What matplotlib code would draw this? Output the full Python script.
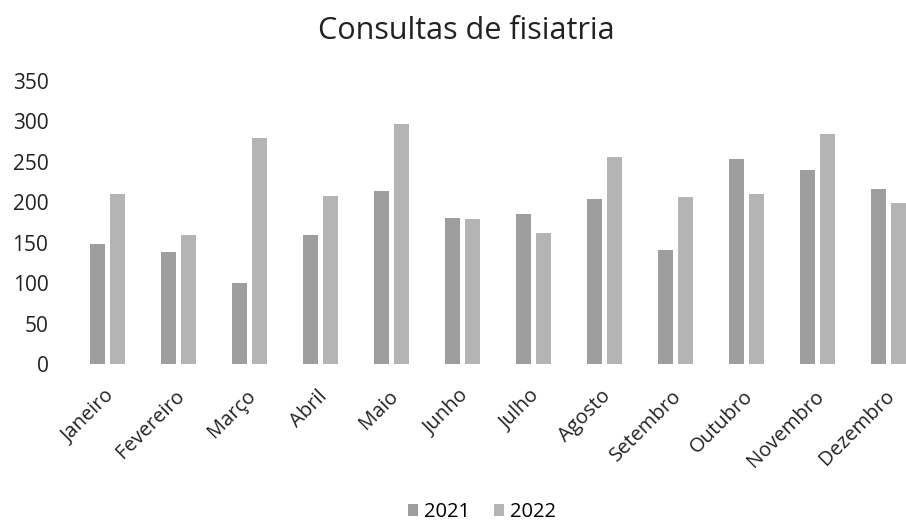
import numpy as np
import matplotlib.pyplot as plt

plt.rcParams['font.family'] = ['Open Sans', 'DejaVu Sans']

# Data
months = ['Janeiro', 'Fevereiro', 'Março', 'Abril', 'Maio', 'Junho',
          'Julho', 'Agosto', 'Setembro', 'Outubro', 'Novembro', 'Dezembro']
consultas_2021 = [148, 139, 100, 159, 214, 181, 186, 204, 141, 253, 240, 216]
consultas_2022 = [210, 159, 279, 208, 297, 179, 162, 256, 206, 210, 285, 199]
y_ticks = [0, 50, 100, 150, 200, 250, 300, 350]

fig = plt.figure(figsize=(9.06, 5.21), dpi=100)
# plot area runs past the right edge, like the cropped original
ax = fig.add_axes([72 / 906, 1 - 364 / 521, 852 / 906, 283 / 521])

x = np.arange(len(months))
w = 0.21
ax.bar(x - 0.14, consultas_2021, w, color='#9e9e9e', label='2021')
ax.bar(x + 0.14, consultas_2022, w, color='#b4b4b4', label='2022')

ax.set_xlim(-0.5, len(months) - 0.5)
ax.set_ylim(0, 350)
ax.set_yticks(y_ticks)
ax.set_yticklabels([str(t) for t in y_ticks], fontsize=15, color='#222222')
ax.set_xticks(x - 0.05)
ax.set_xticklabels(months, rotation=45, ha='right', rotation_mode='anchor',
                   fontsize=14.5, color='#222222')
ax.tick_params(length=0)
ax.tick_params(axis='x', pad=16)
ax.tick_params(axis='y', pad=17)
for s in ax.spines.values():
    s.set_visible(False)

fig.text(466 / 906, 1 - 31 / 521, 'Consultas de fisiatria', ha='center', va='center',
         fontsize=22, color='#222222')
fig.legend(loc='center', bbox_to_anchor=(482 / 906, 1 - 512 / 521), ncol=2,
           frameon=False, fontsize=14.5, handlelength=0.5, handleheight=0.5,
           handletextpad=0.3, columnspacing=1.2)

fig.savefig('out.png', dpi=100)
